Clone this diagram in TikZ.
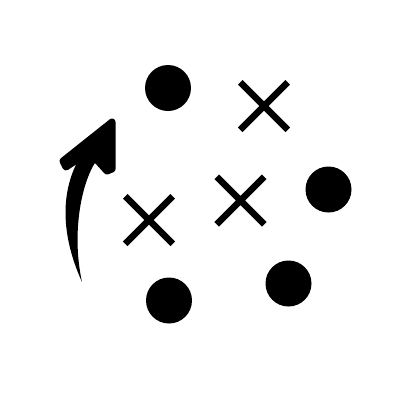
\documentclass[tikz,border=0pt]{standalone}
\usetikzlibrary{shapes.misc}
\begin{document}
\begin{tikzpicture}[x=1pt,y=-1pt,
  dot/.style={circle,fill=black,inner sep=0pt,minimum size=46pt},
  xmark/.style={cross out,draw=black,line width=6.5pt,inner sep=0pt,minimum size=41pt}]
\useasboundingbox (0,0) rectangle (400,400);
\fill[white] (0,0) rectangle (400,400);
\node[dot] (d1) at (168,88) {};
\node[dot] (d2) at (328.5,189.5) {};
\node[dot] (d3) at (169,300.5) {};
\node[dot] (d4) at (288.5,283.5) {};
\node[xmark] (x1) at (264,106) {};
\node[xmark] (x2) at (240.5,200.5) {};
\node[xmark] (x3) at (149,220) {};
% curved arrow
\fill[black] (82,282) .. controls (63,240) and (58,195) .. (80,157)
  -- (97,160) .. controls (82,180) and (71,232) .. (82,282) -- cycle;
\filldraw[black,line width=7pt,line join=round]
  (112,122) -- (63,161) -- (66,167) -- (81,157) -- (97,160) -- (107,171) -- (112,169) -- cycle;
\end{tikzpicture}
\end{document}
